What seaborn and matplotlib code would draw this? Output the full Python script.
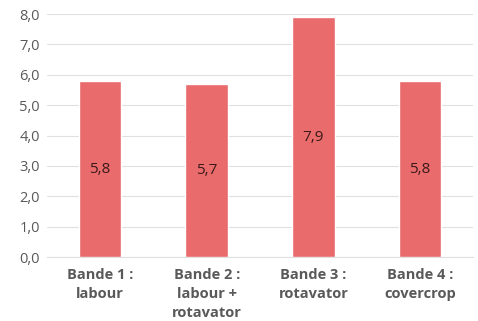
import pandas as pd
import seaborn as sns
import matplotlib.pyplot as plt

# Values
bandes = ['Bande 1 :\nlabour', 'Bande 2 :\nlabour +\nrotavator', 'Bande 3 :\nrotavator', 'Bande 4 :\ncovercrop']
valeurs = [5.8, 5.7, 7.9, 5.8]
yticks = [0, 1, 2, 3, 4, 5, 6, 7, 8]

data = pd.DataFrame({'Bande': bandes, 'Valeur': valeurs})

sns.set_style('white')
plt.rcParams['font.family'] = ['Open Sans', 'DejaVu Sans']

fig = plt.figure(figsize=(4.78, 3.21), dpi=100)
ax = fig.add_axes([0.098, 0.199, 0.892, 0.757])

sns.barplot(data=data, x='Bande', y='Valeur', color='#E96B6B', width=0.4,
            saturation=1, ax=ax, zorder=3)

# Value labels centered in the bars
for i, v in enumerate(valeurs):
    ax.text(i, v / 2, f'{v:.1f}'.replace('.', ','), ha='center', va='center',
            fontsize=11, color='#3a1a1a', zorder=4)

ax.set_ylim(0, 8)
ax.set_yticks(yticks)
ax.set_yticklabels([f'{t:.1f}'.replace('.', ',') for t in yticks],
                   fontsize=10.5, color='#595959')
ax.set_xticks(range(len(bandes)))
ax.set_xticklabels(bandes, fontsize=10.5, color='#595959', fontweight='bold',
                   linespacing=1.45)
ax.tick_params(axis='y', length=0, pad=5)
ax.tick_params(axis='x', length=0, pad=8)
ax.grid(axis='y', color='#E0E0E0', linewidth=0.8, zorder=0)
ax.set_xlabel('')
ax.set_ylabel('')
for s in ['top', 'right', 'left']:
    ax.spines[s].set_visible(False)
ax.spines['bottom'].set_color('#E0E0E0')
ax.spines['bottom'].set_linewidth(0.8)

plt.savefig('out.png', dpi=100)
